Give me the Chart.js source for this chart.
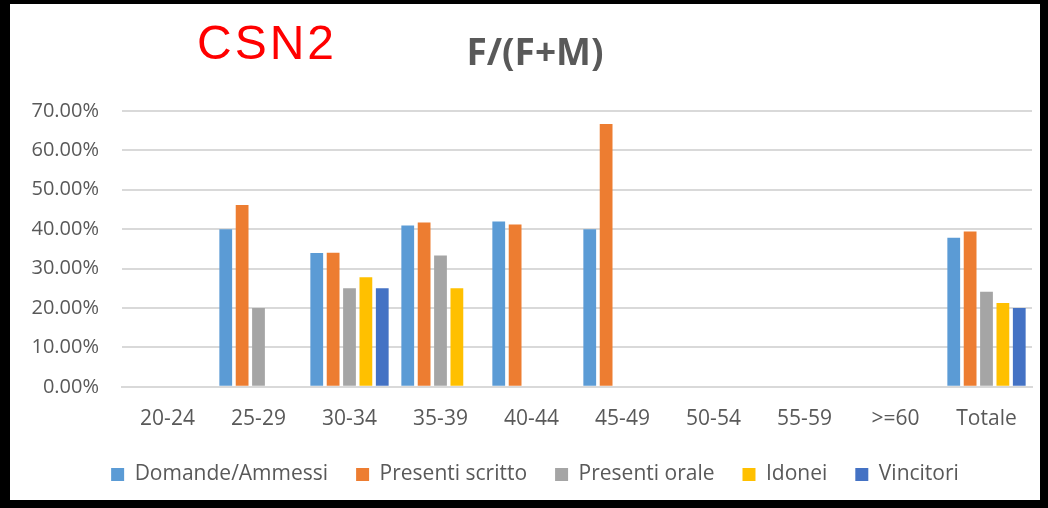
<!DOCTYPE html>
<html>
<head>
<meta charset="utf-8">
<script src="https://cdn.jsdelivr.net/npm/chart.js@4"></script>
<style>
  html, body { margin: 0; padding: 0; background: #000; }
  body { width: 1048px; height: 508px; position: relative; overflow: hidden; }
  #frame { position: absolute; left: 10px; top: 4px; width: 1030px; height: 496px; background: #fff; }
  #tag { position: absolute; left: 187px; top: 15px; font: 48px "Liberation Sans", Arial, sans-serif;
         line-height: 48px; letter-spacing: 3px; color: #ff0000; }
  canvas { position: absolute; left: 0; top: 0; }
</style>
</head>
<body>
<div id="frame">
  <canvas id="chart" width="1030" height="496"></canvas>
  <div id="tag">CSN2</div>
</div>
<script>
const categories = ["20-24", "25-29", "30-34", "35-39", "40-44", "45-49", "50-54", "55-59", ">=60", "Totale"];
const domande   = [0, 0.4000, 0.3396, 0.4091, 0.4194, 0.4000, 0, 0, 0, 0.3784];
const scritto   = [0, 0.4615, 0.3404, 0.4167, 0.4118, 0.6667, 0, 0, 0, 0.3940];
const orale     = [0, 0.2000, 0.2500, 0.3333, 0, 0, 0, 0, 0, 0.2414];
const idonei    = [0, 0, 0.2778, 0.2500, 0, 0, 0, 0, 0, 0.2128];
const vincitori = [0, 0, 0.2500, 0, 0, 0, 0, 0, 0, 0.2000];

const textColor = "#595959";
const gridColor = "#d9d9d9";
const font = "'Open Sans', sans-serif";

const series = [
    { label: "Domande/Ammessi", data: domande, color: "#5b9bd5" },
    { label: "Presenti scritto", data: scritto, color: "#ed7d31" },
    { label: "Presenti orale", data: orale, color: "#a5a5a5" },
    { label: "Idonei", data: idonei, color: "#ffc000" },
    { label: "Vincitori", data: vincitori, color: "#4472c4" }
];

// the y labels are wider than the axis box; stretch the box so they are not clipped
const widenYAxis = {
    id: "widenYAxis",
    afterLayout(chart) {
        chart.scales.y.left = 0;
    }
};

new Chart(document.getElementById("chart"), {
    type: "bar",
    plugins: [widenYAxis],
    data: {
        labels: categories,
        datasets: series.map(s => ({
            label: s.label,
            data: s.data,
            backgroundColor: s.color,
            borderWidth: 0,
            categoryPercentage: 0.9,
            barPercentage: 0.78
        }))
    },
    options: {
        responsive: false,
        animation: false,
        layout: { padding: { left: 28, right: 8, top: 0, bottom: 5 } },
        plugins: {
            title: {
                display: true,
                text: "F/(F+M)",
                color: textColor,
                font: { family: font, size: 37, weight: "bold" },
                padding: { top: 28.5, bottom: 34 }
            },
            legend: {
                position: "bottom",
                labels: {
                    color: textColor,
                    font: { family: font, size: 21 },
                    boxWidth: 13,
                    boxHeight: 13,
                    padding: 28
                }
            },
            tooltip: { enabled: false }
        },
        scales: {
            x: {
                afterFit: s => { s.height -= 16; },
                grid: { display: false, drawTicks: false },
                border: { display: true, color: gridColor, width: 2 },
                ticks: { color: textColor, font: { family: font, size: 21 }, padding: 20 }
            },
            y: {
                min: 0,
                max: 0.7,
                afterFit: s => { s.width = 84; },
                grid: { color: gridColor, lineWidth: 2, drawTicks: false },
                border: { display: false },
                ticks: {
                    stepSize: 0.1,
                    color: textColor,
                    font: { family: font, size: 20 },
                    padding: 23,
                    callback: v => (v * 100).toFixed(2) + "%"
                }
            }
        }
    }
});
</script>
</body>
</html>
